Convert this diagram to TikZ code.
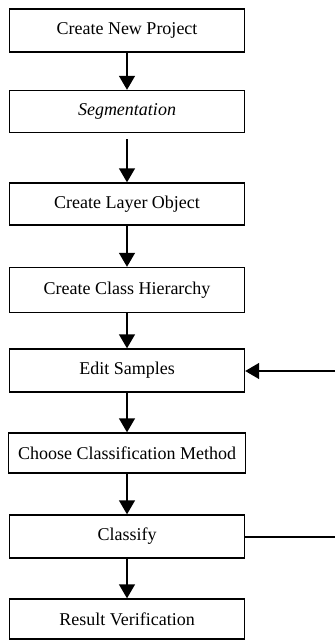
\documentclass[tikz,border=0pt]{standalone}
\usepackage{fontspec}
\setmainfont{Liberation Serif}
\usetikzlibrary{arrows.meta}
\begin{document}
\begin{tikzpicture}[x=1pt,y=-1pt,
  stepbox/.style={draw,line width=1.4pt,minimum width=235pt,inner sep=0pt,font=\fontsize{18}{20}\selectfont},
  flow/.style={line width=1.4pt,-{Triangle[length=14pt,width=16pt]}}]
\useasboundingbox (0,0) rectangle (335,640);
\fill[white] (0,0) rectangle (335,640);
\node[stepbox,minimum height=43pt] (n1) at (127,30.5) {Create New Project};
\node[stepbox,minimum height=42pt] (n2) at (127,111.5) {\itshape Segmentation};
\node[stepbox,minimum height=42pt] (n3) at (127,204) {Create Layer Object};
\node[stepbox,minimum height=45pt] (n4) at (127,290) {Create Class Hierarchy};
\node[stepbox,minimum height=43pt] (n5) at (127,370.5) {Edit Samples};
\node[stepbox,minimum height=40pt,minimum width=237pt] (n6) at (127,453) {Choose Classification Method};
\node[stepbox,minimum height=43pt] (n7) at (127,536.5) {Classify};
\node[stepbox,minimum height=40pt] (n8) at (127,619) {Result Verification};
\coordinate (r5) at (335,371);
\coordinate (r7) at (335,537);
\draw[flow] (n1) -- (n2);
\draw[flow,shorten <=6pt] (n2) -- (n3);
\draw[flow] (n3) -- (n4);
\draw[flow] (n4) -- (n5);
\draw[flow] (n5) -- (n6);
\draw[flow] (n6) -- (n7);
\draw[flow] (n7) -- (n8);
\draw[flow] (r5) -- (n5.east |- r5);
\draw[line width=1.4pt] (n7.east |- r7) -- (r7);
\end{tikzpicture}
\end{document}
